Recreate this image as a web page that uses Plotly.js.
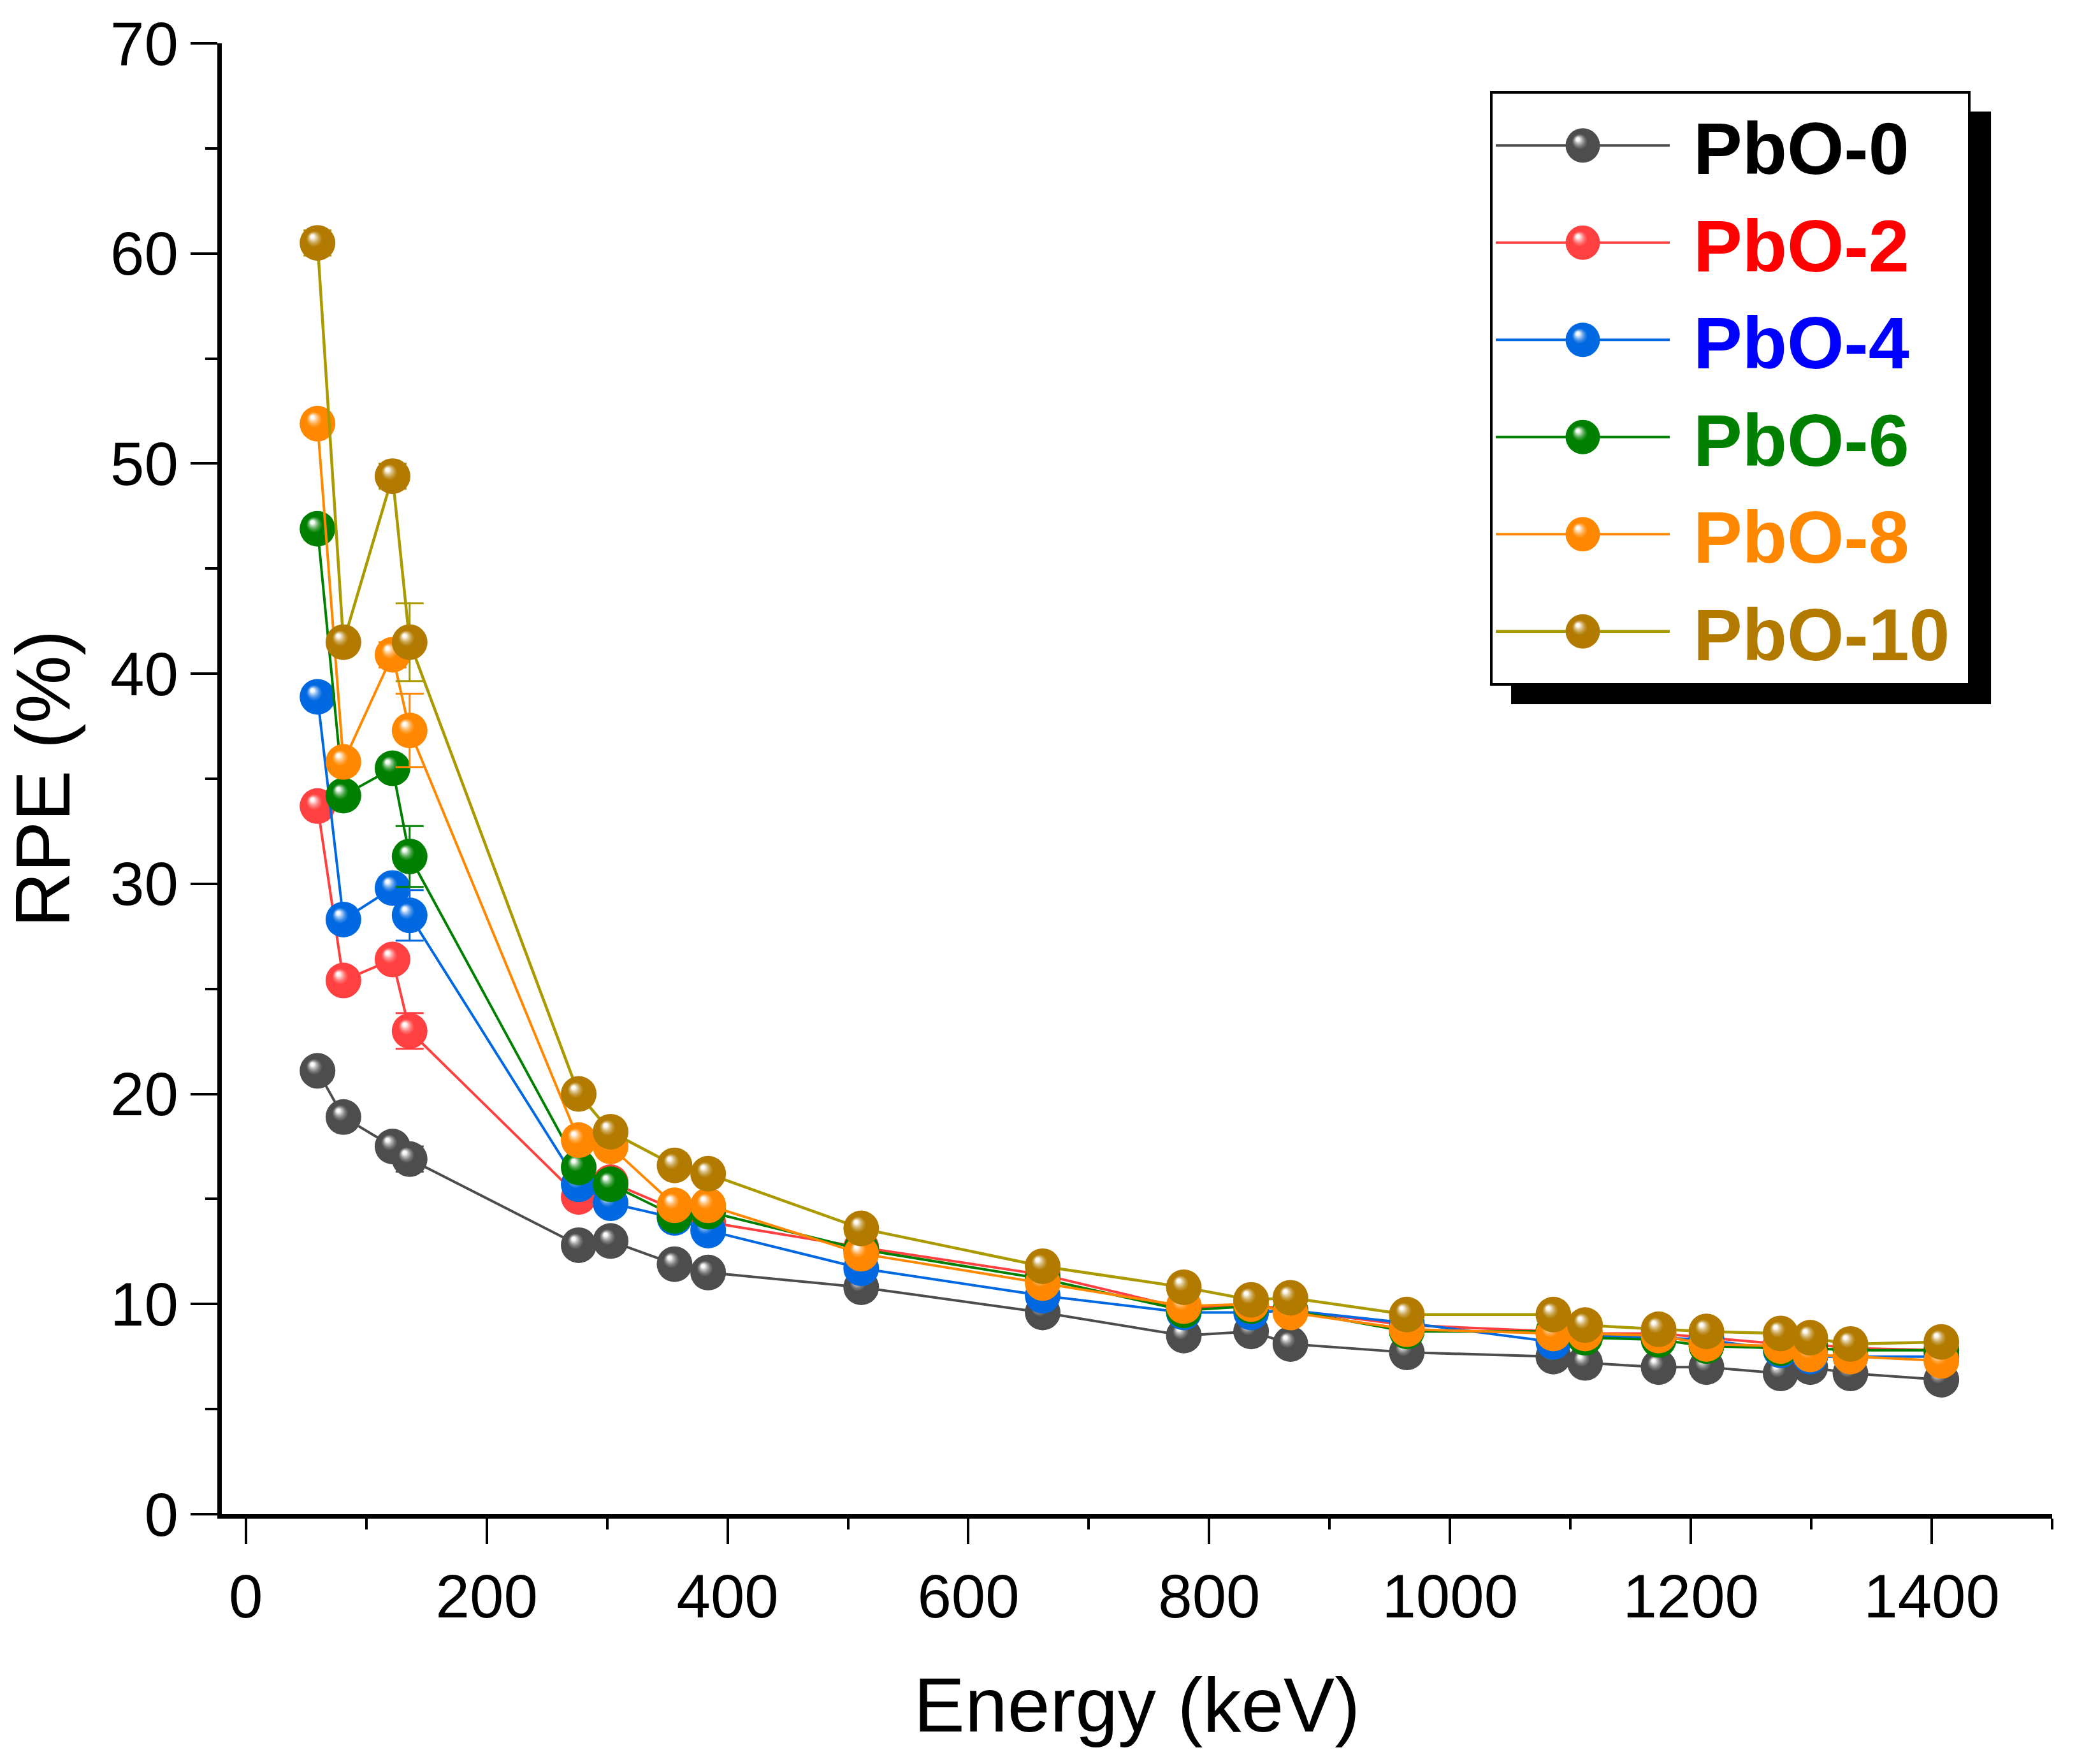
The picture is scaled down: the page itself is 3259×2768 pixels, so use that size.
<!DOCTYPE html>
<html><head><meta charset="utf-8">
<script src="https://cdn.plot.ly/plotly-3.0.1.min.js"></script>
<style>html,body{margin:0;padding:0;background:#fff;}#chart{width:3259px;height:2768px;}</style>
</head><body><div id="chart"></div>
<script>
// Energy (keV)
const energy = [59.5, 81, 121.8, 136, 276.4, 302.9, 356, 383.9, 511, 661.7, 778.9, 834.8, 867.4, 964.1, 1085.8, 1112.1, 1173.2, 1212.9, 1274.5, 1299.1, 1332.5, 1408];
// RPE (%) for each sample
const rpePbO0  = [21.1, 18.9, 17.5, 16.9, 12.8, 13.0, 11.9, 11.5, 10.8, 9.6, 8.5, 8.7, 8.1, 7.7, 7.5, 7.2, 7.0, 7.0, 6.7, 7.0, 6.7, 6.4];
const rpePbO2  = [33.7, 25.4, 26.4, 23.0, 15.1, 15.8, 14.5, 13.9, 12.7, 11.4, 9.8, 10.0, 9.7, 9.0, 8.7, 8.6, 8.6, 8.4, 8.1, 8.1, 7.9, 7.8];
const rpePbO4  = [38.9, 28.3, 29.8, 28.5, 15.7, 14.8, 14.1, 13.5, 11.7, 10.4, 9.6, 9.6, 9.7, 9.1, 8.2, 8.5, 8.4, 8.3, 7.8, 7.5, 7.5, 7.5];
const rpePbO6  = [46.9, 34.2, 35.5, 31.3, 16.5, 15.7, 14.2, 14.4, 12.6, 11.2, 9.7, 9.9, 9.7, 8.7, 8.7, 8.4, 8.3, 8.0, 7.9, 7.9, 7.8, 7.8];
const rpePbO8  = [51.9, 35.8, 40.9, 37.3, 17.8, 17.5, 14.7, 14.7, 12.4, 11.0, 9.9, 10.0, 9.6, 8.8, 8.6, 8.6, 8.5, 8.1, 8.0, 7.6, 7.5, 7.3];
const rpePbO10 = [60.5, 41.5, 49.4, 41.5, 20.0, 18.2, 16.6, 16.2, 13.6, 11.8, 10.8, 10.2, 10.3, 9.5, 9.5, 9.0, 8.8, 8.7, 8.6, 8.4, 8.1, 8.2];
// error bars
const errPbO0  = [0.3, 0.3, 0.3, 0.6, 0.2, 0.2, 0.2, 0.2, 0.2, 0.2, 0.2, 0.2, 0.2, 0.2, 0.2, 0.2, 0.2, 0.2, 0.2, 0.2, 0.2, 0.2];
const errPbO2  = [0.4, 0.3, 0.4, 0.85, 0.3, 0.3, 0.3, 0.3, 0.3, 0.2, 0.2, 0.2, 0.2, 0.2, 0.2, 0.2, 0.2, 0.2, 0.2, 0.2, 0.2, 0.2];
const errPbO4  = [0.4, 0.4, 0.5, 1.2, 0.3, 0.3, 0.3, 0.3, 0.3, 0.2, 0.2, 0.2, 0.2, 0.2, 0.2, 0.2, 0.2, 0.2, 0.2, 0.2, 0.2, 0.2];
const errPbO6  = [0.5, 0.4, 0.5, 1.45, 0.3, 0.3, 0.3, 0.3, 0.3, 0.2, 0.2, 0.2, 0.2, 0.2, 0.2, 0.2, 0.2, 0.2, 0.2, 0.2, 0.2, 0.2];
const errPbO8  = [0.5, 0.4, 0.6, 1.75, 0.3, 0.3, 0.3, 0.3, 0.3, 0.2, 0.2, 0.2, 0.2, 0.2, 0.2, 0.2, 0.2, 0.2, 0.2, 0.2, 0.2, 0.2];
const errPbO10 = [0.6, 0.5, 0.6, 1.85, 0.3, 0.3, 0.3, 0.3, 0.3, 0.2, 0.2, 0.2, 0.2, 0.2, 0.2, 0.2, 0.2, 0.2, 0.2, 0.2, 0.2, 0.2];

const seriesNames = ['PbO-0', 'PbO-2', 'PbO-4', 'PbO-6', 'PbO-8', 'PbO-10'];
const seriesValues = [rpePbO0, rpePbO2, rpePbO4, rpePbO6, rpePbO8, rpePbO10];
const seriesErrors = [errPbO0, errPbO2, errPbO4, errPbO6, errPbO8, errPbO10];
const markerColors = ['#4d4d4d', '#ff4040', '#0068e0', '#008000', '#ff8800', '#b27b00'];
const lineColors   = ['#4d4d4d', '#ff4040', '#0068e0', '#008000', '#ff8800', '#aa9a00'];
const textColors   = ['#000000', '#ff0000', '#0000ff', '#008000', '#ff8800', '#b27b00'];

const traces = seriesNames.map((n, i) => ({
  x: energy, y: seriesValues[i], type: 'scatter', mode: 'lines+markers',
  name: '<span style="color:' + textColors[i] + '">\u00a0' + n + '\u2009</span>',
  line: {color: lineColors[i], width: i === 5 ? 4.5 : 4},
  marker: {size: 56, color: markerColors[i], line: {width: 0}, gradient: {type: 'radial', color: '#ffffff'}},
  error_y: {type: 'data', array: seriesErrors[i], visible: true, color: lineColors[i], thickness: 3, width: 22}
}));

const FONT = 'Arial, "Liberation Sans", sans-serif';
const layout = {
  width: 3259, height: 2768,
  paper_bgcolor: '#ffffff', plot_bgcolor: '#ffffff',
  margin: {l: 348, r: 39, t: 68, b: 392},
  font: {family: FONT, color: '#000000'},
  showlegend: true,
  legend: {x: 0.6929, y: 0.9675, xanchor: 'left', yanchor: 'top', bgcolor: '#ffffff',
           bordercolor: '#000000', borderwidth: 4, itemwidth: 273, tracegroupgap: 0,
           font: {family: FONT, size: 115, weight: 'bold', color: '#000'}},
  xaxis: {range: [-20, 1500], tick0: 0, dtick: 200, ticks: 'outside', ticklen: 40, tickwidth: 4, tickcolor: '#000',
          showline: true, linewidth: 7, linecolor: '#000', showgrid: false, zeroline: false,
          tickfont: {size: 96, family: FONT},
          minor: {dtick: 100, ticks: 'outside', ticklen: 17, tickwidth: 4, tickcolor: '#000', showgrid: false},
          title: {text: 'Energy (keV)', font: {size: 120, family: FONT}, standoff: 78}},
  yaxis: {range: [0, 70], tick0: 0, dtick: 10, ticks: 'outside', ticklen: 42, tickwidth: 4, tickcolor: '#000',
          showline: true, linewidth: 7, linecolor: '#000', showgrid: false, zeroline: false,
          tickfont: {size: 96, family: FONT},
          minor: {dtick: 5, ticks: 'outside', ticklen: 19, tickwidth: 4, tickcolor: '#000', showgrid: false},
          title: {text: 'RPE (%)', font: {size: 120, family: FONT}, standoff: 26}},
  xaxis2: {overlaying: 'x', side: 'top', anchor: 'y', range: [-20, 1500], showline: true, linewidth: 4, linecolor: '#000',
           ticks: '', showticklabels: false, showgrid: false, zeroline: false},
  yaxis2: {overlaying: 'y', side: 'right', anchor: 'x', range: [0, 70], tick0: 0, dtick: 14, ticks: 'inside', ticklen: 42,
           tickwidth: 4, tickcolor: '#000', showticklabels: false, showline: true, linewidth: 7, linecolor: '#000',
           showgrid: false, zeroline: false,
           minor: {dtick: 7, ticks: 'inside', ticklen: 19, tickwidth: 4, tickcolor: '#000', showgrid: false}},
  shapes: [{type: 'rect', xref: 'paper', yref: 'paper', x0: 0.7044, x1: 0.9666, y0: 0.5507, y1: 0.9536,
            fillcolor: '#000000', line: {width: 0}, layer: 'above'}]
};

function parseRGB(s) {
  const m = s.match(/\d+(\.\d+)?/g);
  return m ? m.slice(0, 3).map(Number) : [128, 128, 128];
}
function mix(c, t) { // t: fraction of white
  return 'rgb(' + c.map(v => Math.round(v + (255 - v) * t)).join(',') + ')';
}

const gd = document.getElementById('chart');
Plotly.newPlot(gd, traces, layout, {staticPlot: true}).then(() => {
  // sphere-like highlight on markers
  document.querySelectorAll('radialGradient').forEach(g => {
    const stops = g.querySelectorAll('stop');
    if (!stops.length) return;
    const c = parseRGB(stops[stops.length - 1].getAttribute('stop-color') || 'rgb(128,128,128)');
    while (g.firstChild) g.removeChild(g.firstChild);
    g.setAttribute('fx', '0.34'); g.setAttribute('fy', '0.3');
    const spec = [[0, mix(c, 1)], [0.1, mix(c, 0.95)], [0.2, mix(c, 0.6)], [0.32, mix(c, 0.25)], [0.45, mix(c, 0)], [1, mix(c, 0)]];
    spec.forEach(([o, col]) => {
      const s = document.createElementNS('http://www.w3.org/2000/svg', 'stop');
      s.setAttribute('offset', (o * 100) + '%');
      s.setAttribute('stop-color', col);
      g.appendChild(s);
    });
  });
  // enlarge legend markers to match plot markers
  const R = 27;
  document.querySelectorAll('.legend .legendpoints path.scatterpts').forEach(p => {
    p.setAttribute('d', 'M' + R + ',0A' + R + ',' + R + ' 0 1,1 0,-' + R + 'A' + R + ',' + R + ' 0 0,1 ' + R + ',0Z');
  });
});
</script>
</body></html>
